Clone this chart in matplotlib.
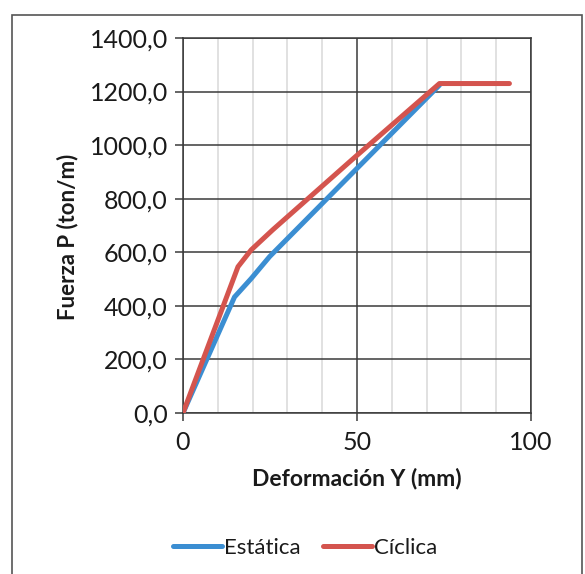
import matplotlib
matplotlib.use("Agg")
import matplotlib.pyplot as plt
from matplotlib.patches import Rectangle
from matplotlib.ticker import MultipleLocator, FuncFormatter

# Load-deformation curves
estatica_x = [0, 14.8, 19.6, 24.9, 49.3, 73.7]
estatica_y = [0, 433, 502, 584, 904, 1224]
ciclica_x = [0, 15.8, 19.6, 25.8, 49.3, 73.7, 93.8]
ciclica_y = [0, 546, 609, 684, 954, 1230, 1230]

series_names = ["Estática", "Cíclica"]
x_label = "Deformación Y (mm)"
y_label = "Fuerza P (ton/m)"

plt.rcParams["font.family"] = ["Lato", "DejaVu Sans"]

W, H = 585, 574
fig = plt.figure(figsize=(W / 100, H / 100), dpi=100)

# outer chart frame
fig.patches.append(Rectangle((12 / W, -0.05), (582 - 12) / W, 1.05 - 15 / H,
                             transform=fig.transFigure, fill=False,
                             edgecolor="#555555", linewidth=1.2))

ax = fig.add_axes([183 / W, 1 - 413 / H, (531 - 183) / W, (413 - 38) / H])

blue = "#3B8ED2"
red = "#D4544E"
ax.plot(estatica_x, estatica_y, color=blue, lw=3.6, solid_capstyle="round",
        solid_joinstyle="round", label=series_names[0], zorder=3)
ax.plot(ciclica_x, ciclica_y, color=red, lw=3.6, solid_capstyle="round",
        solid_joinstyle="round", label=series_names[1], zorder=4)

ax.set_xlim(0, 100)
ax.set_ylim(0, 1400)
ax.xaxis.set_major_locator(MultipleLocator(50))
ax.xaxis.set_minor_locator(MultipleLocator(10))
ax.yaxis.set_major_locator(MultipleLocator(200))
ax.yaxis.set_major_formatter(FuncFormatter(lambda v, p: f"{v:.1f}".replace(".", ",")))

ax.grid(which="minor", axis="x", color="#dcdcdc", lw=1.2)
ax.grid(which="major", axis="both", color="#3a3a3a", lw=1.1)
ax.set_axisbelow(True)
for s in ax.spines.values():
    s.set_color("#3a3a3a")
    s.set_linewidth(1.1)

ax.tick_params(which="major", direction="out", length=6, width=1.1,
               color="#3a3a3a", labelsize=18, pad=5, labelcolor="#1a1a1a")
ax.tick_params(which="minor", length=0)
ax.tick_params(axis="x", pad=7)

ax.set_xlabel(x_label, fontsize=16.5, fontweight="bold", labelpad=10, color="#1a1a1a")
ax.set_ylabel(y_label, fontsize=16, fontweight="bold", color="#1a1a1a")
ax.yaxis.set_label_coords(-0.30, 0.47)

leg = fig.legend(loc="center", bbox_to_anchor=(305 / W, 1 - 548 / H), ncol=2,
                 frameon=False, fontsize=16, handlelength=2.2, handletextpad=0.1,
                 columnspacing=1.0)
for t in leg.get_texts():
    t.set_color("#1a1a1a")

fig.savefig("out.png", dpi=100, facecolor="white")
